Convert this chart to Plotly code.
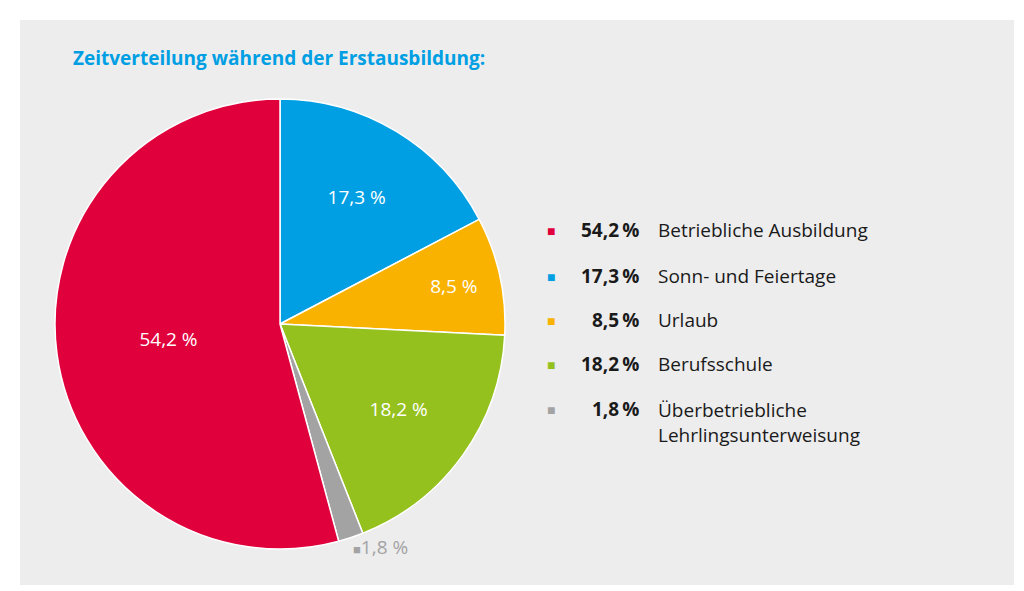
import plotly.graph_objects as go

labels = ["Sonn- und Feiertage", "Urlaub", "Berufsschule", "Überbetriebliche<br>Lehrlingsunterweisung", "Betriebliche Ausbildung"]
values = [17.3, 8.5, 18.2, 1.8, 54.2]
colors = ["#009FE3", "#F9B200", "#95C11F", "#A3A3A3", "#E0003C"]
slice_text = ["17,3 %", "8,5 %", "18,2 %", "", "54,2 %"]

legend_order = [4, 0, 1, 2, 3]
legend_pct = ["54,2 %", "17,3 %", "8,5 %", "18,2 %", "1,8 %"]
legend_y = [222, 268, 312, 356, 401]

W, H = 1024, 591
font = "Open Sans"

fig = go.Figure(go.Pie(
    values=values, labels=labels, marker=dict(colors=colors, line=dict(color="white", width=1.5)),
    sort=False, direction="clockwise", rotation=0,
    text=slice_text, textinfo="text", textposition="inside", insidetextorientation="horizontal",
    textfont=dict(family=font, size=19, color="white"),
    domain=dict(x=[47/W, 497/W], y=[1-541/H, 1-91/H]), showlegend=False, hoverinfo="label+value"))

ann = [dict(x=63/W, y=1-50/H, xref="paper", yref="paper", xanchor="left", yanchor="middle",
            text="<b>Zeitverteilung während der Erstausbildung:</b>", showarrow=False,
            font=dict(family=font, size=19, color="#009FE3")),
       dict(x=343/W, y=1-539/H, xref="paper", yref="paper", xanchor="left", yanchor="middle",
            text="<span style='font-size:13px'>■</span>1,8 %", showarrow=False,
            font=dict(family=font, size=19, color="#A3A3A3"))]
for k, i in enumerate(legend_order):
    y = 1 - legend_y[k]/H
    ann.append(dict(x=537/W, y=y, xref="paper", yref="paper", xanchor="left", yanchor="middle",
                    text="■", showarrow=False, font=dict(family=font, size=14, color=colors[i])))
    ann.append(dict(x=633/W, y=y, xref="paper", yref="paper", xanchor="right", yanchor="middle",
                    text="<b>" + legend_pct[k].replace(" ", "\u2009") + "</b>", showarrow=False,
                    font=dict(family=font, size=19, color="#1a1a1a")))
    ann.append(dict(x=648/W, y=y, xref="paper", yref="paper", xanchor="left", yanchor="top" if i == 3 else "middle",
                    yshift=14 if i == 3 else 0,
                    text=labels[i], showarrow=False, align="left",
                    font=dict(family=font, size=19, color="#1a1a1a")))

fig.update_layout(width=W, height=H, margin=dict(l=0, r=0, t=0, b=0), paper_bgcolor="white",
                  annotations=ann,
                  shapes=[dict(type="rect", xref="paper", yref="paper", x0=12/W, x1=1006/W, y0=1-577/H, y1=1-12/H,
                               fillcolor="#EDEDEE", line=dict(width=0), layer="below")])
fig.write_html("out.html")
